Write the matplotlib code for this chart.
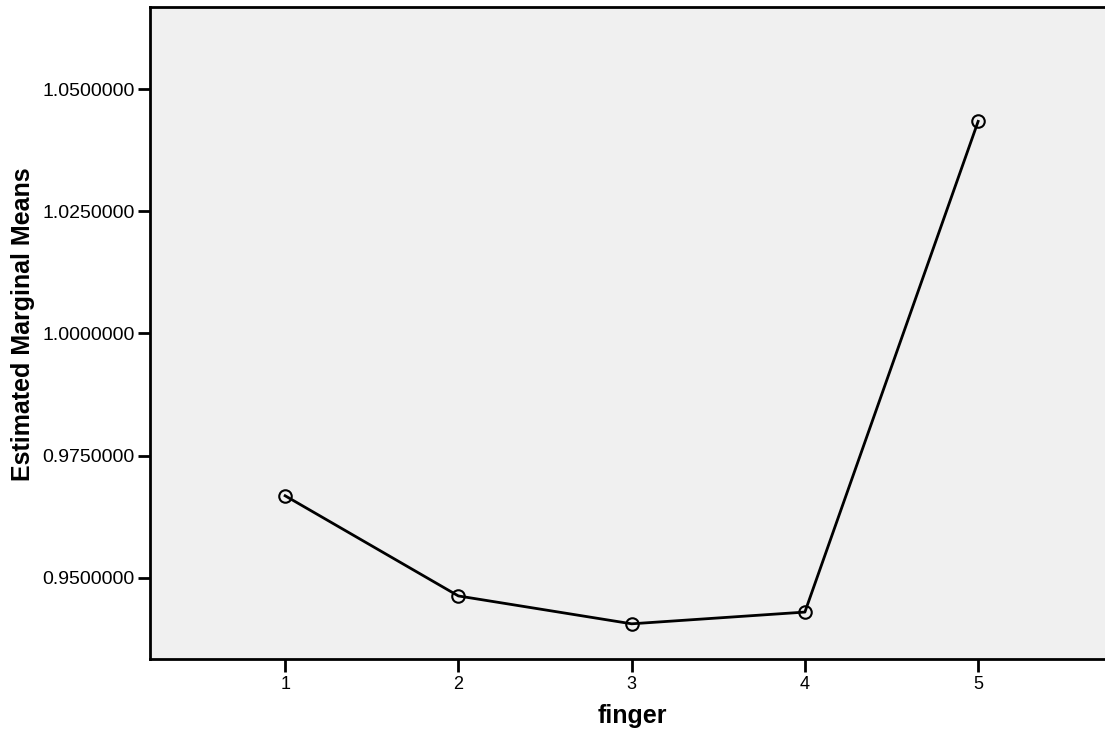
import matplotlib
matplotlib.use("Agg")
import matplotlib.pyplot as plt

plt.rcParams['font.family'] = ['Liberation Sans', 'DejaVu Sans']

# estimated marginal means per finger
fingers = [1, 2, 3, 4, 5]
means = [0.9668, 0.9463, 0.9406, 0.9430, 1.0434]
ytick_vals = [0.95, 0.975, 1.0, 1.025, 1.05]

fig = plt.figure(figsize=(11.05, 7.46), dpi=100)
ax = fig.add_axes([150 / 1105, 87 / 746, 965 / 1105, 652 / 746])
ax.set_facecolor('#f0f0f0')

ax.plot(fingers, means, color='black', lw=2, marker='o', ms=9,
        mfc='none', mec='black', mew=1.5, zorder=3)

ax.set_xlim(0.22, 5.79)
ax.set_ylim(0.93340, 1.06680)
ax.set_xticks(fingers)
ax.set_xticklabels([str(f) for f in fingers], fontsize=13)
ax.set_yticks(ytick_vals)
ax.set_yticklabels([f'{v:.7f}' for v in ytick_vals], fontsize=14)
ax.tick_params(axis='both', direction='out', length=9, width=2, color='black', pad=2)
ax.tick_params(axis='x', pad=3)

for side in ['left', 'bottom', 'top']:
    ax.spines[side].set_linewidth(2)
    ax.spines[side].set_color('black')
ax.spines['right'].set_visible(False)

ax.set_xlabel('finger', fontsize=18, fontweight='bold', labelpad=8)
ax.set_ylabel('Estimated Marginal Means', fontsize=18, fontweight='bold', labelpad=5)
ax.yaxis.label.set_y(0.514)

fig.text(0.51, 1.007, 'Estimated Marginal Means of grip by finger', ha='center',
         va='baseline', fontsize=16, fontweight='bold')

fig.savefig('out.png', dpi=100)
